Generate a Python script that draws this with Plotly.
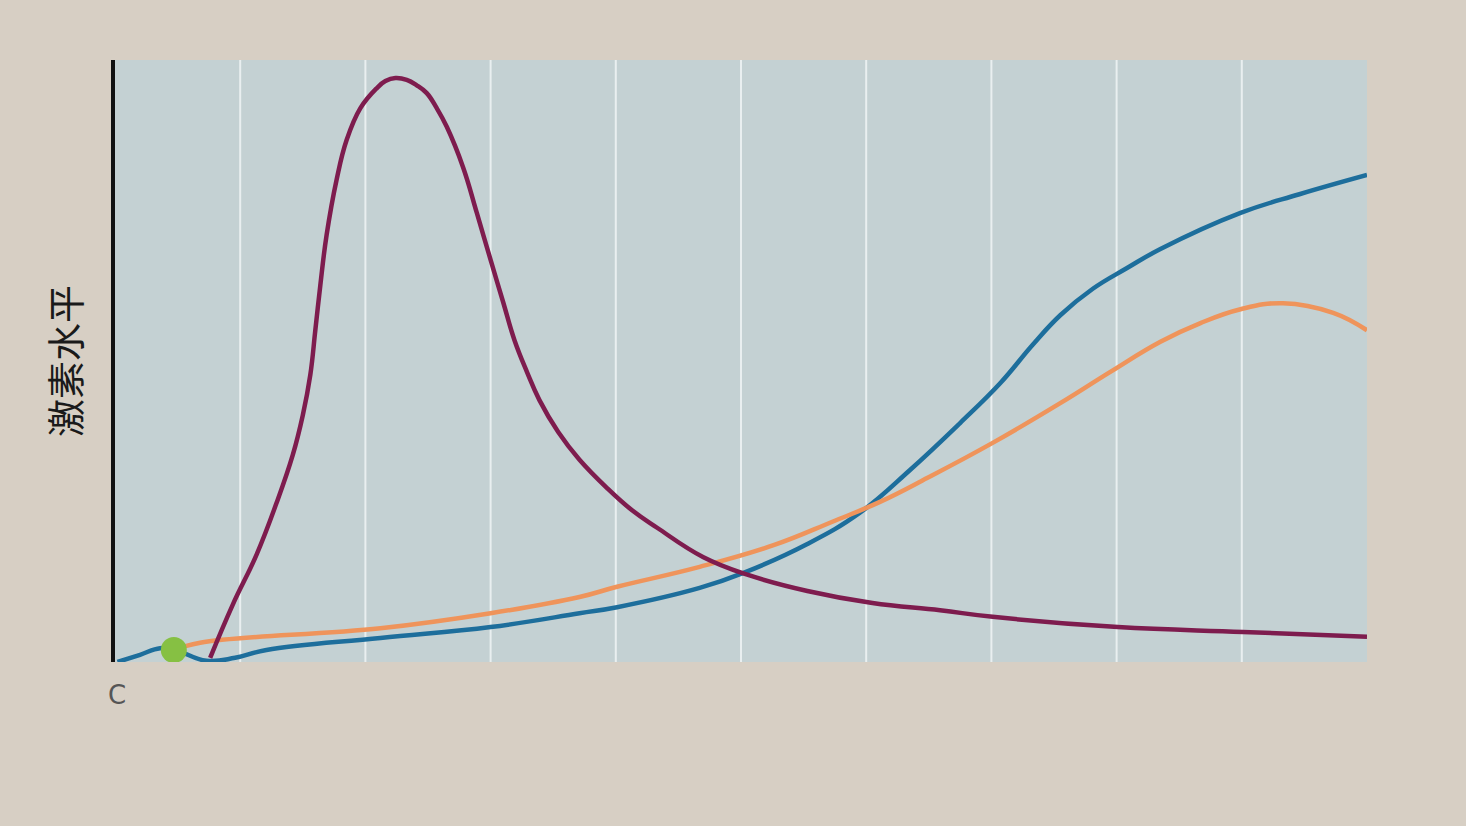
import plotly.graph_objects as go

# Hormone curves (x in grid columns 0-10, y in relative level 0-100)
magenta_x = [0.76, 0.94, 1.13, 1.29, 1.42, 1.50, 1.56, 1.60, 1.64, 1.69, 1.77, 1.85, 1.96, 2.09, 2.16,
             2.24, 2.33, 2.41, 2.49, 2.57, 2.65, 2.78, 2.89, 3.00, 3.10, 3.19, 3.29, 3.39, 3.54, 3.71,
             3.93, 4.13, 4.33, 4.70, 5.05, 5.53, 6.05, 6.59, 7.01, 8.01, 9.01, 10.0]
magenta_y = [0.7, 9.5, 17.8, 26.4, 34.4, 41.0, 47.7, 55.1, 62.6, 70.9, 80.1, 86.7, 92.0, 95.3, 96.5,
             97.0, 96.7, 95.8, 94.5, 92.0, 88.9, 82.2, 74.6, 66.8, 59.8, 53.5, 48.2, 43.5, 38.2, 33.6,
             28.9, 25.2, 22.3, 17.4, 14.5, 11.8, 9.8, 8.6, 7.5, 5.8, 5.0, 4.2]

blue_x = [0.02, 0.20, 0.36, 0.48, 0.73, 0.96, 1.21, 2.12, 3.00, 3.71, 4.01, 4.67, 5.02, 5.53, 5.95,
          6.35, 6.75, 7.07, 7.33, 7.55, 7.81, 8.08, 8.35, 8.99, 9.46, 10.0]
blue_y = [0.0, 1.2, 2.3, 2.0, 0.2, 0.7, 2.0, 4.0, 5.8, 8.1, 9.1, 12.3, 14.8, 19.6, 24.8,
          31.9, 39.7, 46.3, 52.7, 57.6, 62.0, 65.4, 68.6, 74.6, 77.7, 80.9]

orange_x = [0.48, 0.68, 2.12, 3.00, 3.71, 4.01, 4.67, 5.26, 5.73, 6.11, 6.49, 7.01, 7.55, 7.95,
            8.35, 8.67, 8.99, 9.33, 9.73, 10.0]
orange_y = [2.0, 3.2, 5.6, 8.1, 10.8, 12.5, 15.8, 19.4, 23.3, 26.6, 30.6, 36.4, 43.0, 48.2,
            53.2, 56.3, 58.6, 59.6, 58.0, 55.1]

dot_x = [0.47]
dot_y = [2.0]

grid_x = [1, 2, 3, 4, 5, 6, 7, 8, 9]
y_label = "激素水平"

fig = go.Figure()
line_common = dict(shape="spline", smoothing=1.2, width=4.5)
fig.add_trace(go.Scatter(x=blue_x, y=blue_y, mode="lines",
                         line=dict(color="#1d6e9c", **line_common), hoverinfo="skip"))
fig.add_trace(go.Scatter(x=orange_x, y=orange_y, mode="lines",
                         line=dict(color="#ef945b", **line_common), hoverinfo="skip"))
fig.add_trace(go.Scatter(x=magenta_x, y=magenta_y, mode="lines",
                         line=dict(color="#7e1c4e", **line_common), hoverinfo="skip"))
fig.add_trace(go.Scatter(x=dot_x, y=dot_y, mode="markers",
                         marker=dict(color="#86c043", size=26, line=dict(width=0)), hoverinfo="skip"))

for gx in grid_x:
    fig.add_shape(type="line", x0=gx, x1=gx, y0=0, y1=1, xref="x", yref="paper",
                  line=dict(color="rgba(240,244,244,0.85)", width=2), layer="below")

fig.update_layout(
    width=1466, height=826,
    margin=dict(l=115, r=99, t=60, b=164),
    paper_bgcolor="#d7cfc4",
    plot_bgcolor="#c4d1d3",
    showlegend=False,
    font=dict(family="Noto Sans CJK SC, sans-serif", color="#222"),
)
fig.update_xaxes(range=[0, 10], showgrid=False, zeroline=False, showticklabels=False,
                 ticks="", showline=False)
fig.update_yaxes(range=[0, 100], showgrid=False, zeroline=False, showticklabels=False,
                 ticks="", showline=True, linecolor="#111", linewidth=4,
                 title=dict(text=y_label, font=dict(size=38, color="#1a1a1a"), standoff=20))
fig.add_annotation(text="C", x=-0.007, y=-0.083, xref="paper", yref="paper",
                   showarrow=False, font=dict(size=26, color="#555", family="DejaVu Sans"))

fig.write_html(
    "out.html",
    config={"displayModeBar": False},
    post_script="document.body.style.margin='0';document.body.style.background='#d7cfc4';",
)
